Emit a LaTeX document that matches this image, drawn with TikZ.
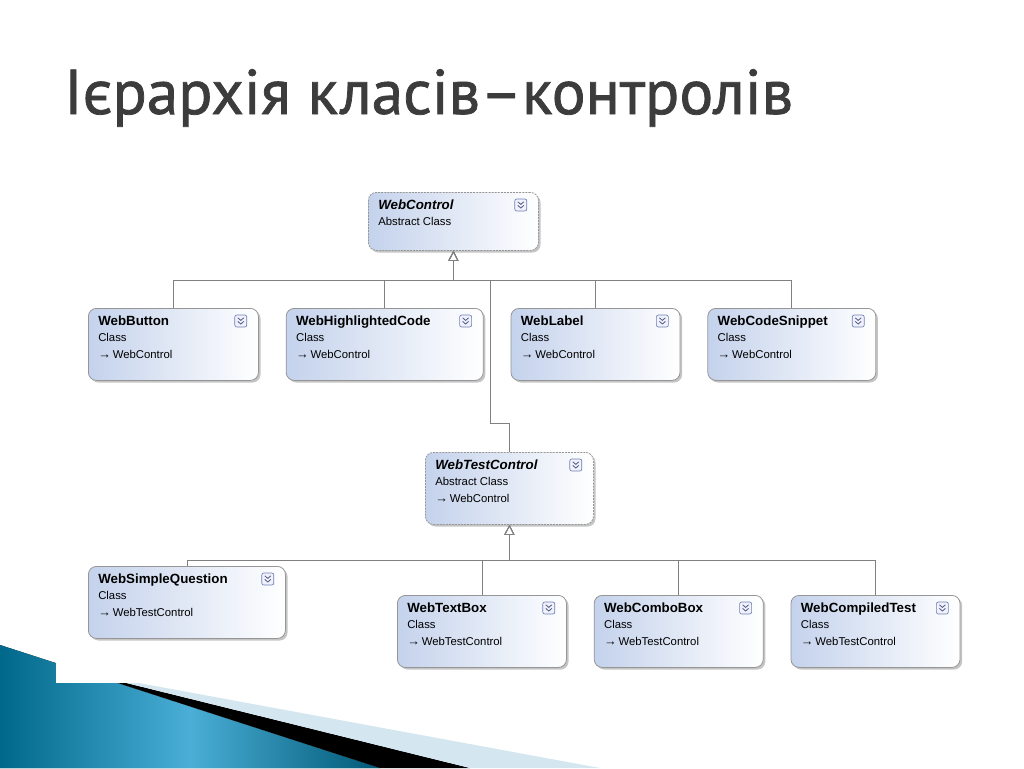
\documentclass[tikz,border=0pt]{standalone}
\usepackage{fontspec}
\setmainfont{Liberation Sans}
\newfontfamily\titlefont[FakeBold=1.2]{PT Sans}
\definecolor{boxblue}{RGB}{196, 210, 236}
\definecolor{boxline}{RGB}{150, 150, 150}
\definecolor{linkgray}{RGB}{128, 128, 128}
\definecolor{titlegray}{RGB}{60, 60, 60}
\definecolor{tealdark}{RGB}{0, 104, 138}
\definecolor{teallight}{RGB}{74, 174, 214}
\definecolor{paleblue}{RGB}{212, 230, 240}
\definecolor{iconblue}{RGB}{110, 130, 175}
\usetikzlibrary{positioning}
\usetikzlibrary{arrows.meta}
\usetikzlibrary{shadows}
\newcommand{\inh}{{\fontsize{9.5}{9.5}\selectfont →}\,}
\newcommand{\cname}[1]{{\fontsize{10}{12.4}\selectfont\bfseries #1}}
\newcommand{\aname}[1]{{\fontsize{10}{12.4}\selectfont\bfseries\itshape #1}}
\tikzset{
  classbox/.style={rectangle, rounded corners=6pt, draw=boxline, line width=0.6pt,
    left color=boxblue, right color=white, inner sep=0,
    drop shadow={shadow xshift=1.6pt, shadow yshift=-1.6pt, fill=black!45, opacity=.5},
    minimum height=54pt, minimum width=127.5pt},
  abstractbox/.style={classbox, dash pattern=on 1.5pt off 0.8pt},
  classtext/.style={anchor=north west, inner sep=0, align=left,
    font=\fontsize{8.5}{12.4}\selectfont},
  inherit/.style={draw=linkgray, line width=0.6pt,
    -{Triangle[open, length=7.5pt, width=7.5pt]}},
  expander/.pic={
    \draw[rounded corners=1.5pt, draw=iconblue, fill=blue!6, line width=0.5pt]
      (-6,-6) rectangle (6,6);
    \draw[draw=iconblue!70!black, line width=0.6pt]
      (-3,-3.2) -- (0,-0.6) -- (3,-3.2)
      (-3,0.4) -- (0,3) -- (3,0.4);
  }
}
\begin{document}
\begin{tikzpicture}[x=0.75pt, y=-0.75pt, node distance=20.25pt]
  \useasboundingbox (0,0) rectangle (1024,768);
  \fill[white] (0,0) rectangle (1024,768);

  % slide decoration
  \fill[left color=tealdark, right color=tealdark!85!black, middle color=teallight]
    (0,645) -- (380,768) -- (0,768) -- cycle;
  \fill[black] (90,674) -- (470,768) -- (380,768) -- cycle;
  \fill[paleblue] (90,674) -- (600,768) -- (470,768) -- cycle;
  \fill[white] (56,140) rectangle (1024,683);

  \node[anchor=base west, inner sep=0, text=titlegray,
    font=\titlefont\fontsize{47.5}{48}\selectfont] (title) at (64,114)
    {Ієрархія класів–контролів};

  % root
  \node[abstractbox, anchor=north west, minimum height=43.5pt] (wc) at (368,192) {};
  \node[classtext] (wc-t) at ([shift={(7.5pt,-5.5pt)}]wc.north west)
    {\aname{WebControl}\\Abstract Class};
  \pic (wc-x) at ([shift={(-13.5pt,-9.75pt)}]wc.north east) {expander};

  % first row
  \node[classbox, anchor=north west] (button) at (88,308) {};
  \node[classbox, right=of button, minimum width=147.75pt] (hlcode) {};
  \node[classbox, right=of hlcode, minimum width=126.75pt] (label) {};
  \node[classbox, right=of label, minimum width=126pt] (snippet) {};

  \node[classtext] (button-t) at ([shift={(7.5pt,-5.5pt)}]button.north west)
    {\cname{WebButton}\\Class\\\inh WebControl};
  \node[classtext] (hlcode-t) at ([shift={(7.5pt,-5.5pt)}]hlcode.north west)
    {\cname{WebHighlightedCode}\\Class\\\inh WebControl};
  \node[classtext] (label-t) at ([shift={(7.5pt,-5.5pt)}]label.north west)
    {\cname{WebLabel}\\Class\\\inh WebControl};
  \node[classtext] (snippet-t) at ([shift={(7.5pt,-5.5pt)}]snippet.north west)
    {\cname{WebCodeSnippet}\\Class\\\inh WebControl};
  \pic (button-x) at ([shift={(-13.5pt,-9.75pt)}]button.north east) {expander};
  \pic (hlcode-x) at ([shift={(-13.5pt,-9.75pt)}]hlcode.north east) {expander};
  \pic (label-x) at ([shift={(-13.5pt,-9.75pt)}]label.north east) {expander};
  \pic (snippet-x) at ([shift={(-13.5pt,-9.75pt)}]snippet.north east) {expander};

  % middle abstract class
  \node[abstractbox, anchor=north west, minimum width=126pt] (wtc) at (425,452) {};
  \node[classtext] (wtc-t) at ([shift={(7.5pt,-5.5pt)}]wtc.north west)
    {\aname{WebTestControl}\\Abstract Class\\\inh WebControl};
  \pic (wtc-x) at ([shift={(-13.5pt,-9.75pt)}]wtc.north east) {expander};

  % second row
  \node[classbox, anchor=north west, minimum width=147.75pt] (question) at (88,566) {};
  \node[classbox, anchor=north west, minimum width=126.75pt] (textbox) at (397,595) {};
  \node[classbox, right=of textbox, minimum width=126.75pt] (combo) {};
  \node[classbox, right=of combo, minimum width=126.75pt] (compiled) {};

  \node[classtext] (question-t) at ([shift={(7.5pt,-5.5pt)}]question.north west)
    {\cname{WebSimpleQuestion}\\Class\\\inh WebTestControl};
  \node[classtext] (textbox-t) at ([shift={(7.5pt,-5.5pt)}]textbox.north west)
    {\cname{WebTextBox}\\Class\\\inh WebTestControl};
  \node[classtext] (combo-t) at ([shift={(7.5pt,-5.5pt)}]combo.north west)
    {\cname{WebComboBox}\\Class\\\inh WebTestControl};
  \node[classtext] (compiled-t) at ([shift={(7.5pt,-5.5pt)}]compiled.north west)
    {\cname{WebCompiledTest}\\Class\\\inh WebTestControl};
  \pic (question-x) at ([shift={(-13.5pt,-9.75pt)}]question.north east) {expander};
  \pic (textbox-x) at ([shift={(-13.5pt,-9.75pt)}]textbox.north east) {expander};
  \pic (combo-x) at ([shift={(-13.5pt,-9.75pt)}]combo.north east) {expander};
  \pic (compiled-x) at ([shift={(-13.5pt,-9.75pt)}]compiled.north east) {expander};

  % inheritance
  \coordinate (bus1) at (wc.south |- 0,280);
  \coordinate (jog) at (490,423);
  \coordinate (bus2) at (wtc.south |- 0,560);
  \draw[inherit] (button.north) |- (bus1) -- (wc.south);
  \draw[inherit] (hlcode.north) |- (bus1) -- (wc.south);
  \draw[inherit] (label.north) |- (bus1) -- (wc.south);
  \draw[inherit] (snippet.north) |- (bus1) -- (wc.south);
  \draw[inherit] (wtc.north) |- (jog) |- (bus1) -- (wc.south);
  \draw[inherit] (question.north) |- (bus2) -- (wtc.south);
  \draw[inherit] (textbox.north) |- (bus2) -- (wtc.south);
  \draw[inherit] (combo.north) |- (bus2) -- (wtc.south);
  \draw[inherit] (compiled.north) |- (bus2) -- (wtc.south);
\end{tikzpicture}
\end{document}
